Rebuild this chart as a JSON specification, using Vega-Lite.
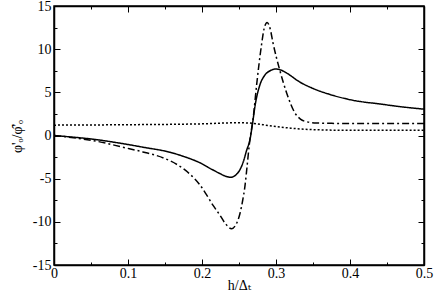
{
  "$schema": "https://vega.github.io/schema/vega-lite/v6.json",
  "width": 370,
  "height": 259,
  "autosize": {"type": "none"},
  "padding": {"left": 54, "top": 6, "right": 12, "bottom": 39},
  "background": "white",
  "config": {
    "view": {"stroke": "#000", "strokeWidth": 1.5},
    "axis": {
      "grid": false,
      "domainColor": "#000",
      "domainWidth": 1.5,
      "tickColor": "#000",
      "tickWidth": 1,
      "labelFont": "Liberation Serif, Times New Roman, DejaVu Serif, serif",
      "labelFontSize": 14,
      "labelColor": "#000",
      "titleFont": "Liberation Serif, Times New Roman, DejaVu Serif, serif",
      "titleFontSize": 14,
      "titleFontWeight": "normal",
      "titleColor": "#000",
      "labelFlush": false,
      "labelOverlap": false
    }
  },
  "data": {
    "values": [
      {"h": 0, "v": 0, "s": "solid"},
      {"h": 0.02, "v": -0.15, "s": "solid"},
      {"h": 0.05, "v": -0.4, "s": "solid"},
      {"h": 0.09, "v": -0.9, "s": "solid"},
      {"h": 0.12, "v": -1.35, "s": "solid"},
      {"h": 0.157, "v": -1.95, "s": "solid"},
      {"h": 0.176, "v": -2.45, "s": "solid"},
      {"h": 0.197, "v": -3.15, "s": "solid"},
      {"h": 0.215, "v": -4.0, "s": "solid"},
      {"h": 0.224, "v": -4.4, "s": "solid"},
      {"h": 0.232, "v": -4.72, "s": "solid"},
      {"h": 0.239, "v": -4.84, "s": "solid"},
      {"h": 0.246, "v": -4.55, "s": "solid"},
      {"h": 0.251, "v": -4.0, "s": "solid"},
      {"h": 0.256, "v": -3.0, "s": "solid"},
      {"h": 0.26, "v": -1.8, "s": "solid"},
      {"h": 0.265, "v": -0.4, "s": "solid"},
      {"h": 0.268, "v": 1.2, "s": "solid"},
      {"h": 0.272, "v": 3.6, "s": "solid"},
      {"h": 0.278, "v": 5.8, "s": "solid"},
      {"h": 0.285, "v": 7.0, "s": "solid"},
      {"h": 0.292, "v": 7.5, "s": "solid"},
      {"h": 0.3, "v": 7.7, "s": "solid"},
      {"h": 0.306, "v": 7.6, "s": "solid"},
      {"h": 0.315, "v": 7.2, "s": "solid"},
      {"h": 0.332, "v": 6.2, "s": "solid"},
      {"h": 0.35, "v": 5.45, "s": "solid"},
      {"h": 0.373, "v": 4.75, "s": "solid"},
      {"h": 0.4, "v": 4.15, "s": "solid"},
      {"h": 0.445, "v": 3.6, "s": "solid"},
      {"h": 0.467, "v": 3.35, "s": "solid"},
      {"h": 0.5, "v": 3.05, "s": "solid"},

      {"h": 0, "v": 0, "s": "dashdot"},
      {"h": 0.03, "v": -0.3, "s": "dashdot"},
      {"h": 0.071, "v": -0.9, "s": "dashdot"},
      {"h": 0.09, "v": -1.3, "s": "dashdot"},
      {"h": 0.12, "v": -1.9, "s": "dashdot"},
      {"h": 0.149, "v": -2.64, "s": "dashdot"},
      {"h": 0.167, "v": -3.4, "s": "dashdot"},
      {"h": 0.184, "v": -4.5, "s": "dashdot"},
      {"h": 0.197, "v": -5.7, "s": "dashdot"},
      {"h": 0.206, "v": -6.85, "s": "dashdot"},
      {"h": 0.215, "v": -8.1, "s": "dashdot"},
      {"h": 0.224, "v": -9.2, "s": "dashdot"},
      {"h": 0.232, "v": -10.25, "s": "dashdot"},
      {"h": 0.24, "v": -10.8, "s": "dashdot"},
      {"h": 0.246, "v": -10.3, "s": "dashdot"},
      {"h": 0.2514, "v": -9.0, "s": "dashdot"},
      {"h": 0.255, "v": -7.5, "s": "dashdot"},
      {"h": 0.258, "v": -5.9, "s": "dashdot"},
      {"h": 0.261, "v": -3.5, "s": "dashdot"},
      {"h": 0.264, "v": -1.0, "s": "dashdot"},
      {"h": 0.2694, "v": 2.2, "s": "dashdot"},
      {"h": 0.274, "v": 6.0, "s": "dashdot"},
      {"h": 0.2806, "v": 10.6, "s": "dashdot"},
      {"h": 0.284, "v": 12.4, "s": "dashdot"},
      {"h": 0.288, "v": 13.1, "s": "dashdot"},
      {"h": 0.292, "v": 12.4, "s": "dashdot"},
      {"h": 0.296, "v": 10.7, "s": "dashdot"},
      {"h": 0.305, "v": 7.6, "s": "dashdot"},
      {"h": 0.3145, "v": 4.9, "s": "dashdot"},
      {"h": 0.3257, "v": 2.6, "s": "dashdot"},
      {"h": 0.333, "v": 1.9, "s": "dashdot"},
      {"h": 0.341, "v": 1.6, "s": "dashdot"},
      {"h": 0.355, "v": 1.45, "s": "dashdot"},
      {"h": 0.38, "v": 1.4, "s": "dashdot"},
      {"h": 0.42, "v": 1.38, "s": "dashdot"},
      {"h": 0.5, "v": 1.38, "s": "dashdot"},

      {"h": 0, "v": 1.2, "s": "dotted"},
      {"h": 0.1, "v": 1.25, "s": "dotted"},
      {"h": 0.2, "v": 1.35, "s": "dotted"},
      {"h": 0.25, "v": 1.48, "s": "dotted"},
      {"h": 0.27, "v": 1.4, "s": "dotted"},
      {"h": 0.29, "v": 1.15, "s": "dotted"},
      {"h": 0.32, "v": 0.85, "s": "dotted"},
      {"h": 0.35, "v": 0.68, "s": "dotted"},
      {"h": 0.4, "v": 0.6, "s": "dotted"},
      {"h": 0.5, "v": 0.6, "s": "dotted"}
    ]
  },
  "resolve": {"axis": {"x": "independent", "y": "independent"}},
  "layer": [
    {
      "mark": {"type": "line", "interpolate": "monotone", "color": "#000", "strokeWidth": 1.5},
      "encoding": {
        "x": {"field": "h", "type": "quantitative",
              "scale": {"domain": [0, 0.5], "nice": false, "zero": false},
              "axis": {"orient": "bottom", "values": [0, 0.1, 0.2, 0.3, 0.4, 0.5], "tickSize": -6, "labelPadding": 7,
                       "labelExpr": "'' + datum.value", "title": "h/Δₜ", "titleY": 24, "titleBaseline": "alphabetic"}},
        "y": {"field": "v", "type": "quantitative",
              "scale": {"domain": [-15, 15], "nice": false, "zero": false},
              "axis": {"orient": "left", "values": [-15, -10, -5, 0, 5, 10, 15], "tickSize": -6, "labelPadding": 9,
                       "labelExpr": "'' + datum.value", "title": "φ'ₒ/φ̂'ₒ", "titleX": -30, "titleY": 130}},
        "strokeDash": {"field": "s", "type": "nominal",
                       "scale": {"domain": ["solid", "dashdot", "dotted"], "range": [[1, 0], [7, 3, 2, 3], [2, 2]]},
                       "legend": null},
        "detail": {"field": "s"}
      }
    },
    {
      "mark": {"type": "line", "strokeOpacity": 0},
      "encoding": {
        "x": {"field": "h", "type": "quantitative",
              "scale": {"domain": [0, 0.5], "nice": false, "zero": false},
              "axis": {"orient": "top", "values": [0, 0.1, 0.2, 0.3, 0.4, 0.5], "tickSize": -6, "labels": false, "title": null}},
        "y": {"field": "v", "type": "quantitative",
              "scale": {"domain": [-15, 15], "nice": false, "zero": false},
              "axis": {"orient": "right", "values": [-15, -10, -5, 0, 5, 10, 15], "tickSize": -6, "labels": false, "title": null}},
        "detail": {"field": "s"}
      }
    },
    {
      "mark": {"type": "line", "strokeOpacity": 0},
      "encoding": {
        "x": {"field": "h", "type": "quantitative",
              "scale": {"domain": [0, 0.5], "nice": false, "zero": false},
              "axis": {"orient": "bottom", "values": [0.05, 0.15, 0.25, 0.35, 0.45], "tickSize": -3, "labels": false, "domain": false, "title": null}},
        "y": {"field": "v", "type": "quantitative",
              "scale": {"domain": [-15, 15], "nice": false, "zero": false},
              "axis": {"orient": "left", "values": [-12.5, -7.5, -2.5, 2.5, 7.5, 12.5], "tickSize": -3, "labels": false, "domain": false, "title": null}},
        "detail": {"field": "s"}
      }
    },
    {
      "mark": {"type": "line", "strokeOpacity": 0},
      "encoding": {
        "x": {"field": "h", "type": "quantitative",
              "scale": {"domain": [0, 0.5], "nice": false, "zero": false},
              "axis": {"orient": "top", "values": [0.05, 0.15, 0.25, 0.35, 0.45], "tickSize": -3, "labels": false, "domain": false, "title": null}},
        "y": {"field": "v", "type": "quantitative",
              "scale": {"domain": [-15, 15], "nice": false, "zero": false},
              "axis": {"orient": "right", "values": [-12.5, -7.5, -2.5, 2.5, 7.5, 12.5], "tickSize": -3, "labels": false, "domain": false, "title": null}},
        "detail": {"field": "s"}
      }
    }
  ]
}
